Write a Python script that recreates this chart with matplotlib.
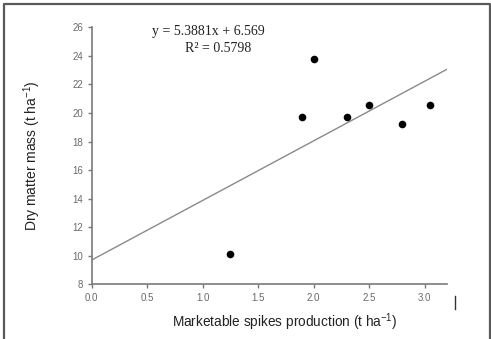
import matplotlib
matplotlib.use("Agg")
import matplotlib.pyplot as plt
from matplotlib.lines import Line2D

# Data
x_vals = [1.25, 1.90, 2.00, 2.30, 2.50, 2.80, 3.05]
y_vals = [10.15, 19.70, 23.80, 19.70, 20.55, 19.25, 20.55]

# Trend line as drawn
fit_x = [0.0, 3.2]
fit_y = [9.7, 23.05]

x_ticks = [0.0, 0.5, 1.0, 1.5, 2.0, 2.5, 3.0]
x_ticklabels = ["0.0", "0.5", "1.0", "1.5", "2.0", "2.5", "3.0"]
y_ticks = [8, 10, 12, 14, 16, 18, 20, 22, 24, 26]

eq_text = "y = 5.3881x + 6.569"
r2_text = "R² = 0.5798"

plt.rcParams['font.family'] = ['Liberation Sans', 'DejaVu Sans']
plt.rcParams['mathtext.fontset'] = 'custom'
plt.rcParams['mathtext.rm'] = 'Liberation Sans'
plt.rcParams['mathtext.default'] = 'regular'

fig = plt.figure(figsize=(4.91, 3.39), dpi=100)
ax = fig.add_axes([0.1868, 0.1614, 0.7230, 0.7581])

ax.plot(fit_x, fit_y, color="#8a8a8a", lw=1.0, zorder=2)
ax.scatter(x_vals, y_vals, s=30, color="black", zorder=3, linewidths=0)

ax.set_xlim(0, 3.2)
ax.set_ylim(8, 26)
ax.set_xticks(x_ticks)
ax.set_xticklabels(x_ticklabels)
ax.set_yticks(y_ticks)

for s in ["top", "right"]:
    ax.spines[s].set_visible(False)
for s in ["left", "bottom"]:
    ax.spines[s].set_color("#7a7a7a")
    ax.spines[s].set_linewidth(1.2)

ax.tick_params(axis="both", direction="out", length=3, width=1, color="#7a7a7a",
               labelsize=7, labelcolor="#6a6a6a", pad=3)

ax.set_ylabel("Dry matter mass (t ha$^{-1}$)", fontsize=10, color="#222222")
ax.set_xlabel("Marketable spikes production (t ha$^{-1}$)", fontsize=9.8, color="#222222")
ax.yaxis.set_label_coords(-0.168, 0.5)
ax.xaxis.set_label_coords(0.543, -0.147)
ax.xaxis.label.set_va("center")
ax.yaxis.label.set_va("center")

ax.text(0.330, 0.982, eq_text, transform=ax.transAxes, ha="center", va="center",
        fontsize=10, family=["Liberation Serif", "DejaVu Serif"], color="#222222")
ax.text(0.356, 0.919, r2_text, transform=ax.transAxes, ha="center", va="center",
        fontsize=10, family=["Liberation Serif", "DejaVu Serif"], color="#222222")

# Outer frame (left, top, right edges)
W, H = 491.0, 339.0
frame_x = [3.5 / W, 3.5 / W, 489.5 / W, 489.5 / W]
frame_y = [0.0, 1 - 3.5 / H, 1 - 3.5 / H, 0.0]
fig.add_artist(Line2D(frame_x, frame_y, transform=fig.transFigure,
                      color="#5a5a5a", lw=1.6))
# small vertical mark near x axis end
fig.add_artist(Line2D([455 / W, 455 / W], [1 - 296 / H, 1 - 309 / H],
                      transform=fig.transFigure, color="#333333", lw=1.0))

fig.savefig("out.png", dpi=100)
